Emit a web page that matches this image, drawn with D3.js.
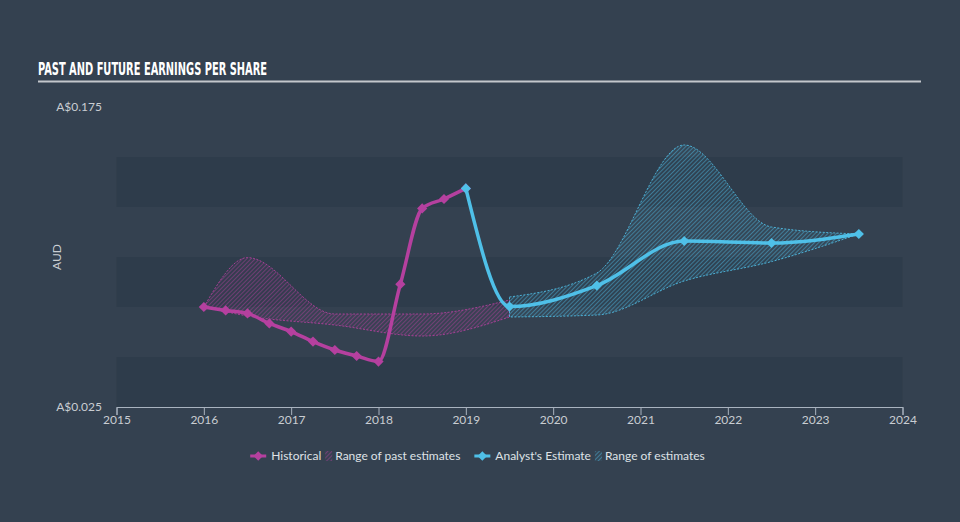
<!DOCTYPE html>
<html>
<head>
<meta charset="utf-8">
<script src="https://cdn.jsdelivr.net/npm/d3@7"></script>
<style>
  html, body { margin: 0; padding: 0; background: #344150; }
  svg { display: block; }
</style>
</head>
<body>
<svg id="chart" width="960" height="522"></svg>
<script>
// ---- data ----
const histYears = [2016, 2016.25, 2016.5, 2016.75, 2017, 2017.25, 2017.5, 2017.75, 2018, 2018.25, 2018.5, 2018.75, 2019];
const histValues = [0.075, 0.0733, 0.0718, 0.0668, 0.0627, 0.0577, 0.0535, 0.0505, 0.0477, 0.0864, 0.1243, 0.129, 0.1343];

const estYears = [2019, 2019.5, 2020.5, 2021.5, 2022.5, 2023.5];
const estValues = [0.1343, 0.0752, 0.0857, 0.108, 0.107, 0.1115];

const pastRangeYears = [2016, 2016.5, 2017.5, 2018.5, 2019.5];
const pastRangeHigh = [0.075, 0.0997, 0.0715, 0.0715, 0.0785];
const pastRangeLow = [0.075, 0.0705, 0.066, 0.0605, 0.070];

const estRangeYears = [2019.5, 2020.5, 2021.5, 2022.5, 2023.5];
const estRangeHigh = [0.080, 0.092, 0.156, 0.115, 0.1115];
const estRangeLow = [0.070, 0.071, 0.088, 0.0977, 0.1115];

const xTicks = [2015, 2016, 2017, 2018, 2019, 2020, 2021, 2022, 2023, 2024];
const yTickValues = [0.025, 0.175];
const yTickLabels = ["A$0.025", "A$0.175"];
const bandEdges = [0.025, 0.05, 0.075, 0.1, 0.125, 0.15, 0.175];

const title = "PAST AND FUTURE EARNINGS PER SHARE";
const yAxisTitle = "AUD";
const legendItems = [
  {type: "line", color: "#b5409f", label: "Historical"},
  {type: "hatch", color: "#b5409f", label: "Range of past estimates"},
  {type: "line", color: "#4fc0e8", label: "Analyst's Estimate"},
  {type: "hatch", color: "#4fc0e8", label: "Range of estimates"}
];

// ---- chart ----
const MAG = "#b5409f", CYA = "#4fc0e8";
const svg = d3.select("#chart");
const W = 960, H = 522;
svg.append("rect").attr("width", W).attr("height", H).attr("fill", "#344150");

const x = d3.scaleLinear().domain([2015, 2024]).range([116.5, 902.5]);
const y = d3.scaleLinear().domain([0.025, 0.175]).range([407, 107]);

// patterns
const defs = svg.append("defs");
function hatch(id, color) {
  const p = defs.append("pattern").attr("id", id).attr("patternUnits", "userSpaceOnUse")
    .attr("width", 3).attr("height", 3).attr("patternTransform", "rotate(45)");
  p.append("rect").attr("width", 3).attr("height", 3).attr("fill", color).attr("fill-opacity", 0.05);
  p.append("line").attr("x1", 0.5).attr("y1", 0).attr("x2", 0.5).attr("y2", 3)
    .attr("stroke", color).attr("stroke-width", 1).attr("stroke-opacity", 0.45);
}
hatch("hMag", MAG);
hatch("hCya", CYA);

// title
svg.append("text").attr("x", 38).attr("y", 75).text(title)
  .attr("font-family", "'DejaVu Sans Condensed', 'Liberation Sans Narrow', sans-serif")
  .attr("font-weight", "bold").attr("font-size", 18).attr("fill", "#ffffff")
  .attr("textLength", 229).attr("lengthAdjust", "spacingAndGlyphs");
svg.append("line").attr("x1", 38).attr("x2", 921).attr("y1", 81.5).attr("y2", 81.5)
  .attr("stroke", "#c3c7cc").attr("stroke-width", 2);

// bands
const bands = d3.range(0, bandEdges.length - 1).filter(i => i % 2 === 0);
svg.append("g").selectAll("rect").data(bands).join("rect")
  .attr("x", x(2015)).attr("width", x(2024) - x(2015))
  .attr("y", i => y(bandEdges[i + 1])).attr("height", i => y(bandEdges[i]) - y(bandEdges[i + 1]))
  .attr("fill", "#2c3847").attr("fill-opacity", 0.6);

// y labels
svg.append("g").selectAll("text").data(yTickValues).join("text")
  .attr("x", 102).attr("y", d => y(d)).attr("dy", "0.35em").attr("text-anchor", "end")
  .attr("font-family", "Lato, 'Open Sans', sans-serif").attr("font-size", 12)
  .attr("fill", "#c9cdd2").text((d, i) => yTickLabels[i]);
svg.append("text").attr("transform", `translate(61,${y(0.1)}) rotate(-90)`)
  .attr("text-anchor", "middle").attr("font-family", "Lato, 'Open Sans', sans-serif")
  .attr("font-size", 12).attr("fill", "#c9cdd2").text(yAxisTitle);

// x axis
const xAxis = d3.axisBottom(x).tickValues(xTicks).tickFormat(d3.format("d")).tickSize(8).tickSizeOuter(8);
const gx = svg.append("g").attr("transform", `translate(0,407)`).call(xAxis);
gx.select(".domain").attr("stroke", "#a9b3bf");
gx.selectAll(".tick line").attr("stroke", "#a9b3bf");
gx.selectAll(".tick text").attr("fill", "#c9cdd2").attr("font-size", 12)
  .attr("font-family", "Lato, 'Open Sans', sans-serif").attr("dy", "0.5em");

// ranges
function rangeArea(years, hi, lo, fillId, color) {
  const data = years.map((yr, i) => ({yr, hi: hi[i], lo: lo[i]}));
  const area = d3.area().x(d => x(d.yr)).y0(d => y(d.lo)).y1(d => y(d.hi)).curve(d3.curveMonotoneX);
  svg.append("path").datum(data).attr("d", area).attr("fill", `url(#${fillId})`)
    .attr("stroke", color).attr("stroke-width", 1).attr("stroke-dasharray", "2,1.5").attr("stroke-opacity", 0.85);
}
rangeArea(pastRangeYears, pastRangeHigh, pastRangeLow, "hMag", MAG);
rangeArea(estRangeYears, estRangeHigh, estRangeLow, "hCya", CYA);

// diamond marker: a square turned 45 degrees
const diamond = d3.symbol(d3.symbolSquare, 52);

// lines
function series(years, values, color) {
  const data = years.map((yr, i) => ({yr, v: values[i]}));
  const line = d3.line().x(d => x(d.yr)).y(d => y(d.v)).curve(d3.curveMonotoneX);
  svg.append("path").datum(data).attr("d", line).attr("fill", "none")
    .attr("stroke", color).attr("stroke-width", 3.5).attr("stroke-linejoin", "round");
  svg.append("g").selectAll("path").data(data).join("path")
    .attr("d", diamond)
    .attr("transform", d => `translate(${x(d.yr)},${y(d.v)}) rotate(45)`)
    .attr("fill", color);
}
series(histYears, histValues, MAG);
series(estYears, estValues, CYA);

// legend
const lg = svg.append("g");
let cx = 0;
legendItems.forEach((it, i) => {
  const g = lg.append("g");
  if (it.type === "line") {
    g.append("line").attr("x1", cx).attr("x2", cx + 16).attr("y1", 0).attr("y2", 0)
      .attr("stroke", it.color).attr("stroke-width", 3);
    g.append("path").attr("d", d3.symbol(d3.symbolSquare, 45)).attr("transform", `translate(${cx + 8},0) rotate(45)`).attr("fill", it.color);
    cx += 21;
  } else {
    g.append("rect").attr("x", cx + 1).attr("y", -5).attr("width", 7).attr("height", 10).attr("fill", `url(#${it.color === MAG ? "hMag" : "hCya"})`);
    cx += 11;
  }
  const t = g.append("text").attr("x", cx).attr("y", 0).attr("dy", "0.35em")
    .attr("font-family", "Lato, 'Open Sans', sans-serif").attr("font-size", 12)
    .attr("fill", "#dfe2e6").text(it.label);
  cx += t.node().getComputedTextLength() + (i === 1 ? 14 : 3);
});
lg.attr("transform", `translate(${(W - cx) / 2 - 1},456)`);
</script>
</body>
</html>
